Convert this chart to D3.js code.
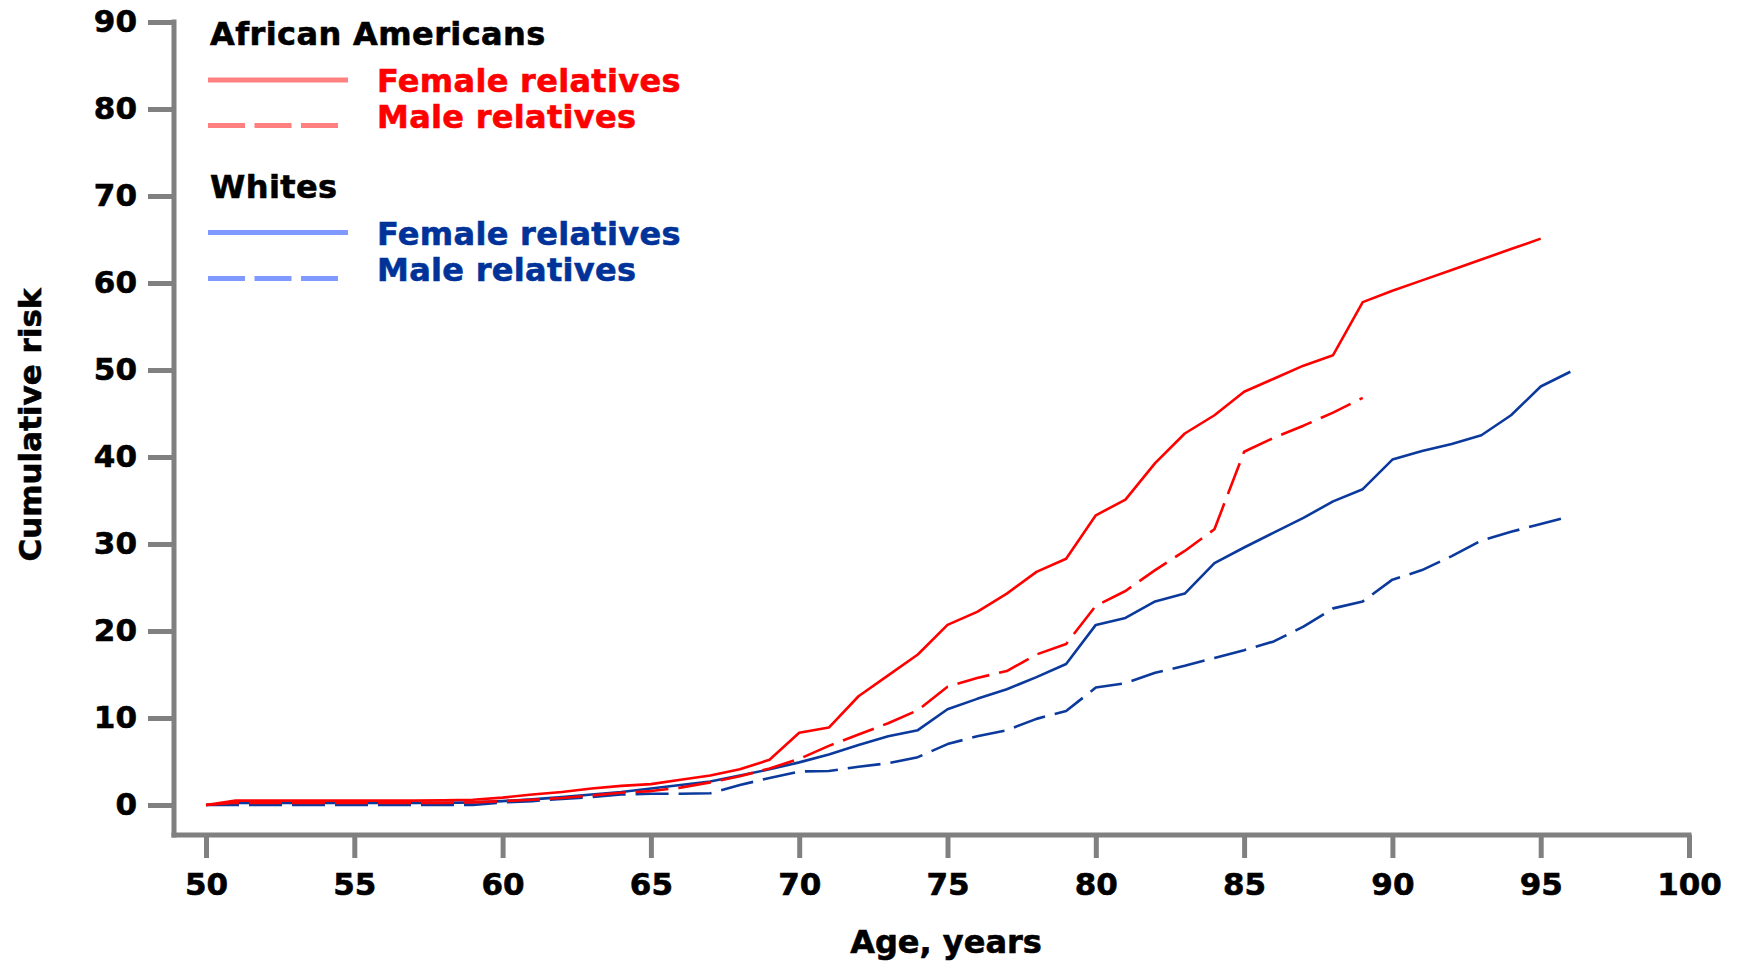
<!DOCTYPE html>
<html>
<head>
<meta charset="utf-8">
<script src="https://cdn.jsdelivr.net/npm/d3@7"></script>
<style>
  html, body { margin: 0; padding: 0; background: #fff; }
  svg { display: block; font-family: "DejaVu Sans", Verdana, sans-serif; font-weight: bold; }
</style>
</head>
<body>
<svg id="chart" width="1737" height="961"></svg>
<script>
// Cumulative risk (%) of disease in first-degree relatives, by age of relative
const agesAAFemale = d3.range(50, 96);   // 50..95
const aaFemale = [
  0, 0.5, 0.5, 0.5, 0.5, 0.5, 0.5, 0.5, 0.55, 0.6,
  0.85, 1.2, 1.5, 1.9, 2.2, 2.4, 2.9, 3.4, 4.1, 5.2,
  8.3, 8.9, 12.5, 14.9, 17.3, 20.7, 22.2, 24.3, 26.8, 28.3,
  33.3, 35.1, 39.3, 42.7, 44.8, 47.5, 49.0, 50.5, 51.7, 57.8,
  59.1, 60.3, 61.5, 62.7, 63.9, 65.1
];

const agesAAMale = d3.range(50, 90);     // 50..89
const aaMale = [
  0, 0.25, 0.25, 0.25, 0.25, 0.25, 0.25, 0.25, 0.25, 0.3,
  0.45, 0.6, 0.8, 1.1, 1.4, 1.6, 2.0, 2.6, 3.3, 4.2,
  5.3, 6.8, 8.1, 9.4, 10.9, 13.6, 14.6, 15.4, 17.3, 18.5,
  22.9, 24.6, 27.0, 29.2, 31.7, 40.6, 42.2, 43.6, 45.1, 46.8
];

const agesWhiteFemale = d3.range(50, 97); // 50..96
const whiteFemale = [
  0, 0.25, 0.25, 0.25, 0.25, 0.25, 0.25, 0.25, 0.25, 0.3,
  0.45, 0.65, 0.9, 1.2, 1.5, 1.9, 2.3, 2.7, 3.4, 4.1,
  4.9, 5.8, 6.9, 7.9, 8.6, 11.0, 12.2, 13.3, 14.7, 16.2,
  20.7, 21.5, 23.4, 24.3, 27.8, 29.6, 31.3, 33.0, 34.9, 36.3,
  39.7, 40.7, 41.5, 42.5, 44.8, 48.1, 49.8
];

const agesWhiteMale = d3.range(50, 97);   // 50..96
const whiteMale = [
  0, 0, 0, 0, 0, 0, 0, 0, 0, 0,
  0.3, 0.45, 0.7, 0.9, 1.2, 1.3, 1.3, 1.35, 2.3, 3.1,
  3.85, 3.9, 4.4, 4.8, 5.5, 7.0, 7.9, 8.6, 9.9, 10.8,
  13.5, 14.0, 15.2, 16.0, 16.9, 17.8, 18.8, 20.5, 22.6, 23.4,
  25.9, 27.0, 28.6, 30.4, 31.4, 32.3, 33.2
];

const xTicks = [50, 55, 60, 65, 70, 75, 80, 85, 90, 95, 100];
const yTicks = [0, 10, 20, 30, 40, 50, 60, 70, 80, 90];

const groupLabels = ["African Americans", "Whites"];
const seriesLabels = ["Female relatives", "Male relatives"];

const RED = "#ff0000", RED_KEY = "#ff8080";
const BLUE_TEXT = "#003399", BLUE = "#0b3a9c", BLUE_KEY = "#8099ff";
const AXIS = "#808080";

const svg = d3.select("#chart");

const x = d3.scaleLinear().domain([50, 100]).range([206, 1689]);
const y = d3.scaleLinear().domain([0, 90]).range([805, 22]);

// heavier glyphs: thin outline in the fill colour
function heavy(sel, color) {
  sel.attr("stroke", color).attr("stroke-width", 0.6);
}

// ---- axes ----
const yAxisX = 174, xAxisY = 835;

const yAxis = svg.append("g")
  .attr("transform", `translate(${yAxisX},0)`)
  .call(d3.axisLeft(y).tickValues(yTicks).tickSize(26).tickPadding(11).tickSizeOuter(0));
const xAxis = svg.append("g")
  .attr("transform", `translate(0,${xAxisY})`)
  .call(d3.axisBottom(x).tickValues(xTicks).tickSize(23).tickPadding(15).tickSizeOuter(0));

[yAxis, xAxis].forEach(g => {
  g.select(".domain").remove();
  g.selectAll(".tick line").attr("stroke", AXIS).attr("stroke-width", 5);
  g.selectAll(".tick text")
    .attr("fill", "#000")
    .style("font-family", '"DejaVu Sans", Verdana, sans-serif')
    .style("font-weight", "bold")
    .style("font-size", "31px")
    .call(heavy, "#000");
});

// axis spines
svg.append("line")
  .attr("x1", yAxisX).attr("x2", yAxisX)
  .attr("y1", y(90) - 2.5).attr("y2", xAxisY + 2.5)
  .attr("stroke", AXIS).attr("stroke-width", 5);
svg.append("line")
  .attr("x1", yAxisX - 2.5).attr("x2", x(100) + 2.5)
  .attr("y1", xAxisY).attr("y2", xAxisY)
  .attr("stroke", AXIS).attr("stroke-width", 5);

// axis titles
svg.append("text")
  .attr("x", 946).attr("y", 953)
  .attr("text-anchor", "middle")
  .style("font-size", "32px")
  .call(heavy, "#000")
  .text("Age, years");
svg.append("text")
  .attr("transform", "translate(41,425) rotate(-90)")
  .attr("text-anchor", "middle")
  .style("font-size", "31px")
  .call(heavy, "#000")
  .text("Cumulative risk");

// ---- curves ----
const line = d3.line().x(d => x(d[0])).y(d => y(d[1]));
const series = [
  { ages: agesWhiteMale,   vals: whiteMale,   color: BLUE, dash: "33,10" },
  { ages: agesWhiteFemale, vals: whiteFemale, color: BLUE, dash: null },
  { ages: agesAAMale,      vals: aaMale,      color: RED,  dash: "33,10" },
  { ages: agesAAFemale,    vals: aaFemale,    color: RED,  dash: null }
];
svg.append("g").selectAll("path")
  .data(series)
  .join("path")
  .attr("d", s => line(s.ages.map((a, i) => [a, s.vals[i]])))
  .attr("fill", "none")
  .attr("stroke", s => s.color)
  .attr("stroke-width", 2.6)
  .attr("stroke-linejoin", "round")
  .attr("stroke-dasharray", s => s.dash);

// ---- legend ----
const legend = svg.append("g");
const keyX1 = 208, keyX2 = 348, textX = 377;
const legendRows = [
  { type: "head", text: groupLabels[0], y: 45 },
  { type: "item", text: seriesLabels[0], y: 92, lineY: 80, color: RED, key: RED_KEY, dash: null },
  { type: "item", text: seriesLabels[1], y: 128, lineY: 125.5, color: RED, key: RED_KEY, dash: "37,9.5" },
  { type: "head", text: groupLabels[1], y: 198 },
  { type: "item", text: seriesLabels[0], y: 245, lineY: 232.5, color: BLUE_TEXT, key: BLUE_KEY, dash: null },
  { type: "item", text: seriesLabels[1], y: 281, lineY: 278.5, color: BLUE_TEXT, key: BLUE_KEY, dash: "37,9.5" }
];
legendRows.forEach(r => {
  if (r.type === "head") {
    legend.append("text").attr("x", 210).attr("y", r.y)
      .attr("fill", "#000").style("font-size", "32px")
      .style("letter-spacing", "0.4px")
      .call(heavy, "#000").text(r.text);
  } else {
    legend.append("line")
      .attr("x1", keyX1).attr("x2", r.dash ? 338 : keyX2)
      .attr("y1", r.lineY).attr("y2", r.lineY)
      .attr("stroke", r.key).attr("stroke-width", 5)
      .attr("stroke-dasharray", r.dash);
    legend.append("text").attr("x", textX).attr("y", r.y)
      .attr("fill", r.color).style("font-size", "32px")
      .style("letter-spacing", "0.3px")
      .call(heavy, r.color).text(r.text);
  }
});
</script>
</body>
</html>
